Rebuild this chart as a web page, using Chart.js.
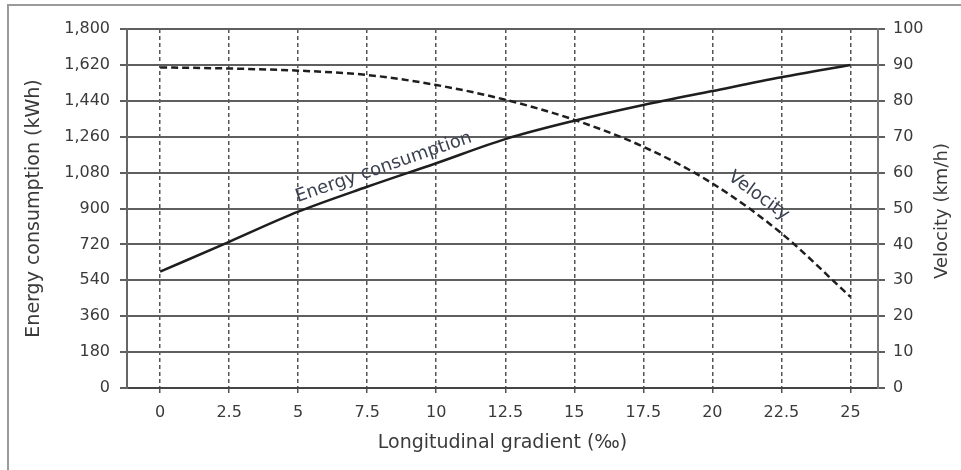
<!DOCTYPE html>
<html>
<head>
<meta charset="utf-8">
<script src="https://cdn.jsdelivr.net/npm/chart.js@4.4.1/dist/chart.umd.min.js"></script>
<style>
  html, body { margin: 0; padding: 0; background: #fff; overflow: hidden; }
  #frame { position: absolute; left: 7px; top: 4px; width: 1000px; height: 500px; border: 2px solid #9a9a9a; }
  #wrap { position: absolute; left: 0; top: 0; width: 961px; height: 470px; }
</style>
</head>
<body>
<div id="frame"></div>
<div id="wrap"><canvas id="gradientChart" width="961" height="470"></canvas></div>
<script>
// longitudinal gradient (‰)
const gradients = [0, 2.5, 5, 7.5, 10, 12.5, 15, 17.5, 20, 22.5, 25];
// energy consumption (kWh), left axis
const energy = [583, 733, 884, 1009, 1127, 1248, 1340, 1419, 1489, 1558, 1620];
// velocity (km/h), right axis
const velocity = [89.3, 89.0, 88.4, 87.2, 84.4, 80.3, 74.7, 67.2, 57.0, 43.1, 25.4];

const xTicks = [0, 2.5, 5, 7.5, 10, 12.5, 15, 17.5, 20, 22.5, 25];
const energyTicks = [0, 180, 360, 540, 720, 900, 1080, 1260, 1440, 1620, 1800];
const velocityTicks = [0, 10, 20, 30, 40, 50, 60, 70, 80, 90, 100];

const textColor = "#3a3a3a";
const fontFamily = "'DejaVu Sans', 'Liberation Sans', sans-serif";

const curveLabels = {
    id: "curveLabels",
    afterDatasetsDraw(chart) {
        const ctx = chart.ctx;
        const x = chart.scales.x, y = chart.scales.y, y1 = chart.scales.y1;
        const put = (text, px, py, deg) => {
            ctx.save();
            ctx.translate(px, py);
            ctx.rotate(deg * Math.PI / 180);
            ctx.font = "18px " + fontFamily;
            ctx.fillStyle = "#3a4150";
            ctx.textAlign = "center";
            ctx.textBaseline = "middle";
            ctx.fillText(text, 0, 0);
            ctx.restore();
        };
        put("Energy consumption", x.getPixelForValue(8.1), y.getPixelForValue(1106), -19);
        put("Velocity", x.getPixelForValue(21.67), y1.getPixelForValue(53.5), 36);

        // right axis title reads bottom to top
        ctx.save();
        ctx.translate(942, 211);
        ctx.rotate(-Math.PI / 2);
        ctx.font = "18px " + fontFamily;
        ctx.fillStyle = textColor;
        ctx.textAlign = "center";
        ctx.textBaseline = "middle";
        ctx.fillText("Velocity (km/h)", 0, 0);
        ctx.restore();
    }
};

new Chart(document.getElementById("gradientChart").getContext("2d"), {
    type: "line",
    data: {
        datasets: [
            {
                label: "Energy consumption",
                data: gradients.map((g, i) => ({x: g, y: energy[i]})),
                yAxisID: "y",
                borderColor: "#1e1e1e",
                borderWidth: 2.5,
                pointRadius: 0,
                cubicInterpolationMode: "monotone",
                fill: false
            },
            {
                label: "Velocity",
                data: gradients.map((g, i) => ({x: g, y: velocity[i]})),
                yAxisID: "y1",
                borderColor: "#1e1e1e",
                borderWidth: 2.5,
                borderDash: [7, 4],
                pointRadius: 0,
                cubicInterpolationMode: "monotone",
                fill: false
            }
        ]
    },
    options: {
        responsive: false,
        animation: false,
        layout: { padding: { top: 29, left: 0, right: 0, bottom: 0 } },
        plugins: {
            legend: { display: false },
            tooltip: { enabled: false }
        },
        scales: {
            x: {
                type: "linear",
                min: -1.2,
                max: 26,
                afterBuildTicks: axis => { axis.ticks = xTicks.map(v => ({value: v})); },
                afterFit: axis => { axis.height = 82; },
                ticks: {
                    callback: v => String(v),
                    color: textColor,
                    padding: 8,
                    maxRotation: 0,
                    font: { family: fontFamily, size: 16 }
                },
                grid: {
                    color: "#555",
                    lineWidth: 1.5,
                    tickLength: 7,
                    tickBorderDash: [4, 3]
                },
                border: { color: "#444", width: 2, dash: [4, 3] },
                title: {
                    display: true,
                    text: "Longitudinal gradient (‰)",
                    color: textColor,
                    font: { family: fontFamily, size: 19 },
                    padding: { top: 0, bottom: 16 }
                }
            },
            y: {
                position: "left",
                min: 0,
                max: 1800,
                afterBuildTicks: axis => { axis.ticks = energyTicks.map(v => ({value: v})); },
                afterFit: axis => { axis.width = 127; },
                ticks: {
                    color: textColor,
                    padding: 10,
                    font: { family: fontFamily, size: 16 }
                },
                grid: { color: "#5f5f5f", lineWidth: 2, tickLength: 7 },
                border: { color: "#666", width: 2 },
                title: {
                    display: true,
                    text: "Energy consumption (kWh)",
                    color: textColor,
                    font: { family: fontFamily, size: 19 },
                    padding: { top: 23, bottom: 0 }
                }
            },
            y1: {
                position: "right",
                min: 0,
                max: 100,
                afterBuildTicks: axis => { axis.ticks = velocityTicks.map(v => ({value: v})); },
                afterFit: axis => { axis.width = 83; },
                ticks: {
                    color: textColor,
                    padding: 8,
                    font: { family: fontFamily, size: 16 }
                },
                grid: { drawOnChartArea: false, color: "#5f5f5f", lineWidth: 2, tickLength: 7 },
                border: { color: "#777", width: 2 }
            }
        }
    },
    plugins: [curveLabels]
});
</script>
</body>
</html>
